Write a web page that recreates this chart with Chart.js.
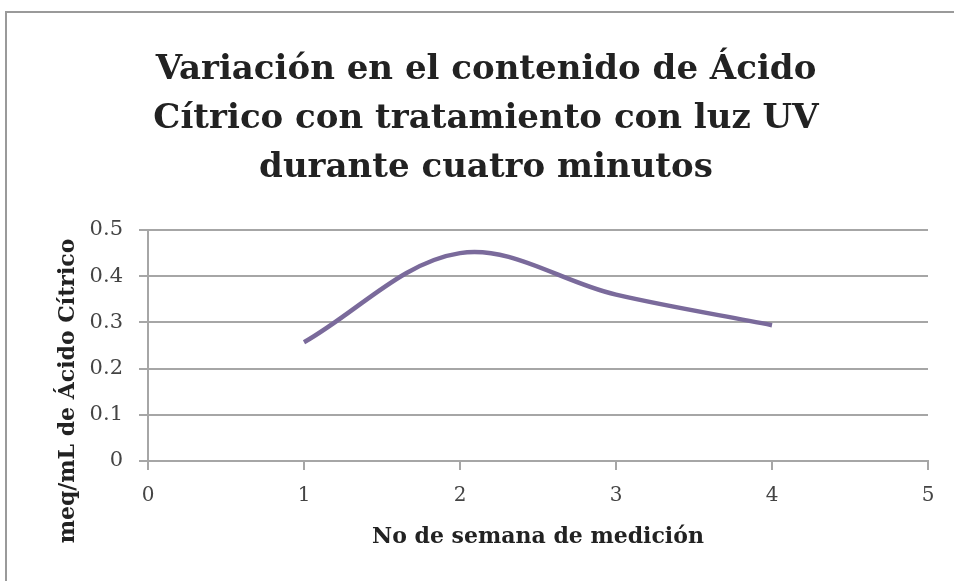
<!DOCTYPE html>
<html>
<head>
<meta charset="utf-8">
<script src="https://cdn.jsdelivr.net/npm/chart.js@4"></script>
<style>
  html, body { margin: 0; padding: 0; background: #fff; }
  #wrap { width: 954px; height: 581px; }
</style>
</head>
<body>
<div id="wrap"><canvas id="chart" width="954" height="581"></canvas></div>
<script>
// values
const semanas = [1, 2, 3, 4];
const acidoCitrico = [0.257, 0.450, 0.360, 0.294];

const TITLE_LINES = ['Variación en el contenido de Ácido', 'Cítrico con tratamiento con luz UV', 'durante cuatro minutos'];
const X_TITLE = 'No de semana de medición';
const Y_TITLE = 'meq/mL de Ácido Cítrico';

const SERIF = '"DejaVu Serif", "Liberation Serif", serif';
const GRID = '#a6a6a6';
const LINE = '#7a6a9b';

// outer frame (only top/left edges are visible in the crop) + white background
const framePlugin = {
    id: 'frame',
    beforeDraw(chart) {
        const ctx = chart.ctx;
        ctx.save();
        ctx.fillStyle = '#fff';
        ctx.fillRect(0, 0, chart.width, chart.height);
        ctx.strokeStyle = '#9a9a9a';
        ctx.lineWidth = 2;
        ctx.beginPath();
        ctx.moveTo(6, chart.height);
        ctx.lineTo(6, 12);
        ctx.lineTo(chart.width, 12);
        ctx.stroke();
        ctx.restore();
    }
};

// y axis title sits lower than chart.js would center it, so draw it by hand
const yTitlePlugin = {
    id: 'yTitle',
    afterDraw(chart) {
        const ctx = chart.ctx;
        ctx.save();
        ctx.translate(68, 391);
        ctx.rotate(-Math.PI / 2);
        ctx.font = 'bold 22px ' + SERIF;
        ctx.fillStyle = '#222';
        ctx.textAlign = 'center';
        ctx.textBaseline = 'middle';
        ctx.fillText(Y_TITLE, 0, 0);
        ctx.restore();
    }
};

new Chart(document.getElementById('chart'), {
    type: 'scatter',
    data: {
        datasets: [{
            label: 'Ácido Cítrico',
            data: semanas.map((s, i) => ({ x: s, y: acidoCitrico[i] })),
            showLine: true,
            borderColor: LINE,
            backgroundColor: LINE,
            borderWidth: 4.5,
            pointRadius: 0,
            tension: 0.35,
            fill: false,
        }]
    },
    options: {
        responsive: false,
        animation: false,
        layout: { padding: { left: 44, right: 26, top: 0, bottom: 0 } },
        plugins: {
            legend: { display: false },
            tooltip: { enabled: false },
            title: {
                display: true,
                text: TITLE_LINES,
                color: '#222',
                font: { family: SERIF, size: 34, weight: 'bold', lineHeight: 49 / 34 },
                padding: { top: 46, bottom: 37 },
            }
        },
        scales: {
            x: {
                type: 'linear',
                min: 0, max: 5,
                afterFit: (s) => { s.height = 120; },
                ticks: {
                    stepSize: 1,
                    color: '#444',
                    padding: 14,
                    font: { family: SERIF, size: 20 },
                },
                grid: {
                    drawOnChartArea: false,
                    drawTicks: true,
                    tickLength: 9,
                    color: GRID,
                    lineWidth: 2,
                },
                border: { color: GRID, width: 2 },
                title: {
                    display: true,
                    text: X_TITLE,
                    color: '#222',
                    font: { family: SERIF, size: 22, weight: 'bold', lineHeight: 1.2 },
                    padding: { top: 0, bottom: 31 },
                }
            },
            y: {
                min: 0, max: 0.5,
                afterFit: (s) => { s.width = 104; },
                ticks: {
                    stepSize: 0.1,
                    color: '#444',
                    padding: 16,
                    font: { family: SERIF, size: 21 },
                },
                grid: {
                    drawTicks: true,
                    tickLength: 9,
                    color: GRID,
                    lineWidth: 2,
                },
                border: { color: GRID, width: 2 },
            }
        }
    },
    plugins: [framePlugin, yTitlePlugin]
});
</script>
</body>
</html>
